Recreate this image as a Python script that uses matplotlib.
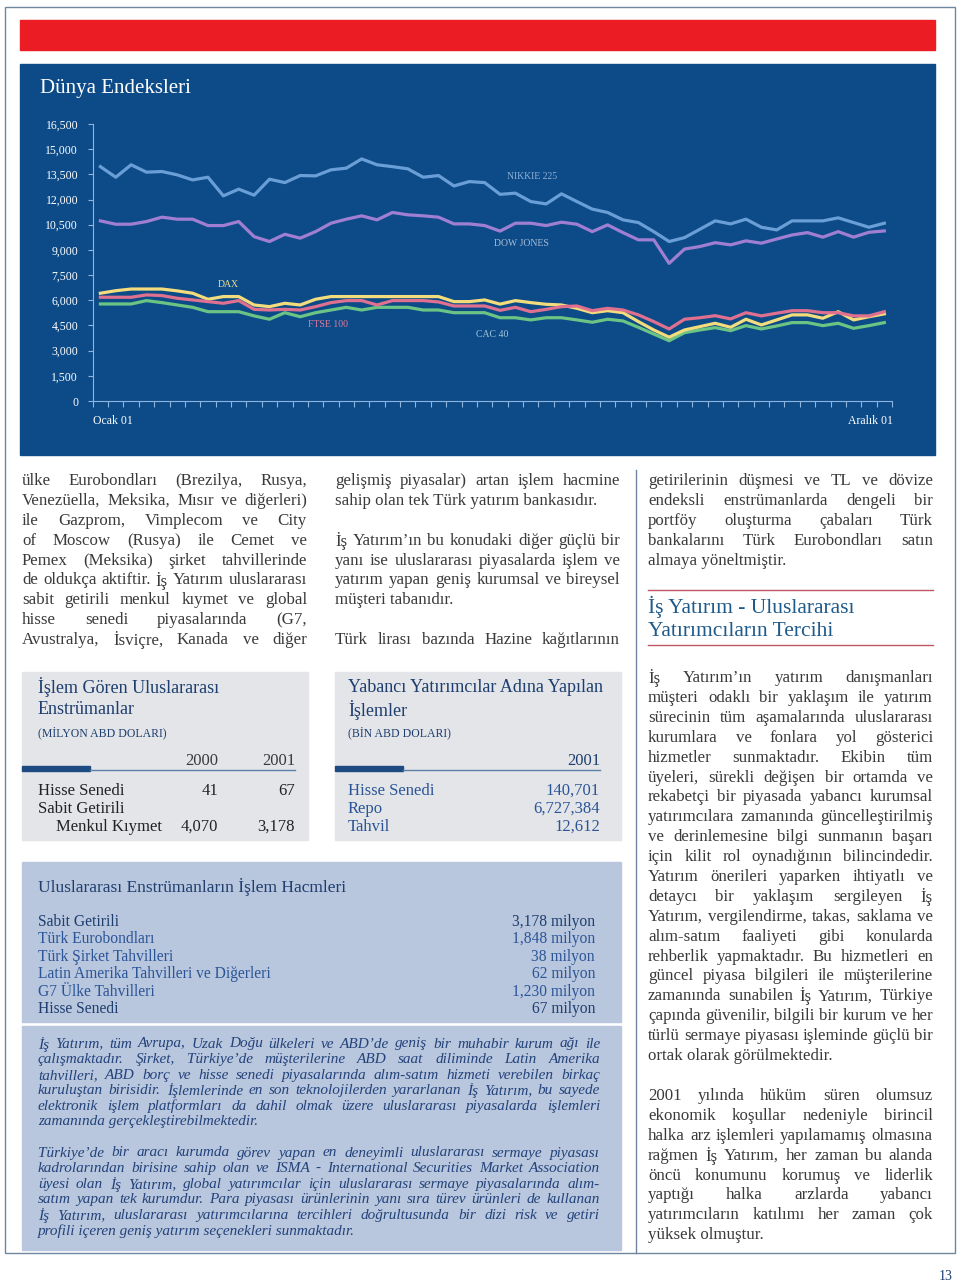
import numpy as np
import matplotlib
matplotlib.use('Agg')
import matplotlib.pyplot as plt
from matplotlib.patches import Rectangle

plt.rcParams['font.family'] = ['Liberation Serif', 'DejaVu Serif']

# weekly closes, Ocak 01 -> Aralik 01
series_names = ['NIKKIE 225', 'DOW JONES', 'DAX', 'FTSE 100', 'CAC 40']
nikkei = [13960, 13330, 14070, 13630, 13670, 13470, 13170, 13330, 12220, 12620,
          12260, 13210, 13010, 13430, 13410, 13770, 13870, 14420, 14070, 13960,
          13830, 13330, 13430, 12810, 13070, 13010, 12310, 12380, 11880, 11740,
          12340, 11880, 11430, 11230, 10790, 10630, 10090, 9500, 9730, 10230,
          10730, 10550, 10830, 10350, 10190, 10730, 10730, 10730, 10910, 10630,
          10350, 10590]
dow = [10730, 10530, 10530, 10690, 10950, 10830, 10830, 10450, 10450, 10690,
       9790, 9500, 9930, 9700, 10090, 10590, 10830, 11030, 10790, 11230,
       11090, 11030, 10950, 10550, 10550, 10450, 10120, 10590, 10590, 10450,
       10650, 10530, 10090, 10490, 10030, 9600, 9600, 8200, 9050, 9200,
       9430, 9300, 9540, 9400, 9650, 9890, 10030, 9760, 10090, 9760,
       10050, 10130]
dax = [6420, 6570, 6670, 6670, 6670, 6560, 6420, 6060, 6220, 6220,
       5720, 5620, 5820, 5720, 6060, 6220, 6220, 6220, 6220, 6220,
       6220, 6220, 6220, 5920, 5920, 6020, 5770, 5980, 5860, 5760,
       5720, 5520, 5260, 5380, 5260, 4730, 4230, 3800, 4230, 4430,
       4630, 4390, 4870, 4530, 4830, 5130, 5130, 4930, 5320, 4830,
       5020, 5190]
ftse = [6180, 6180, 6180, 6320, 6280, 6120, 6020, 5920, 5820, 5980,
        5460, 5420, 5460, 5420, 5620, 5860, 5980, 5980, 5720, 5980,
        5980, 5980, 5900, 5660, 5660, 5660, 5400, 5580, 5320, 5460,
        5620, 5660, 5380, 5520, 5420, 5130, 4730, 4290, 4870, 4960,
        5080, 4890, 5260, 5070, 5230, 5380, 5380, 5260, 5260, 5070,
        5070, 5320]
cac = [5780, 5780, 5780, 5980, 5860, 5720, 5580, 5320, 5320, 5320,
       5070, 4870, 5260, 5020, 5260, 5420, 5580, 5420, 5580, 5580,
       5580, 5420, 5420, 5260, 5260, 5260, 4960, 4960, 4830, 4960,
       4960, 4830, 4690, 4870, 4770, 4390, 3990, 3590, 4070, 4230,
       4370, 4190, 4490, 4290, 4470, 4670, 4670, 4490, 4630, 4330,
       4490, 4670]
y_ticks = list(range(0, 16501, 1500))

# small tables
t1_rows = ['Hisse Senedi', 'Sabit Getirili', 'Menkul Kıymet']
t1_2000 = ['41', '', '4,070']
t1_2001 = ['67', '', '3,178']
t2_rows = ['Hisse Senedi', 'Repo', 'Tahvil']
t2_2001 = ['140,701', '6,727,384', '12,612']
t3_rows = ['Sabit Getirili', 'Türk Eurobondları', 'Türk Şirket Tahvilleri',
           'Latin Amerika Tahvilleri ve Diğerleri', 'G7 Ülke Tahvilleri', 'Hisse Senedi']
t3_vals = ['3,178 milyon', '1,848 milyon', '38 milyon', '62 milyon', '1,230 milyon', '67 milyon']

col1 = ['ülke Eurobondları (Brezilya, Rusya,',
        'Venezüella, Meksika, Mısır ve diğerleri)',
        'ile Gazprom, Vimplecom ve City',
        'of Moscow (Rusya) ile Cemet ve',
        'Pemex (Meksika) şirket tahvillerinde',
        'de oldukça aktiftir. İş Yatırım uluslararası',
        'sabit getirili menkul kıymet ve global',
        'hisse senedi piyasalarında (G7,',
        'Avustralya, İsviçre, Kanada ve diğer']
col2 = ['gelişmiş piyasalar) artan işlem hacmine',
        'sahip olan tek Türk yatırım bankasıdır.',
        '',
        'İş Yatırım’ın bu konudaki diğer güçlü bir',
        'yanı ise uluslararası piyasalarda işlem ve',
        'yatırım yapan geniş kurumsal ve bireysel',
        'müşteri tabanıdır.',
        '',
        'Türk lirası bazında Hazine kağıtlarının']
col2_just = [1, 0, 0, 1, 1, 1, 0, 0, 1]
col3 = ['getirilerinin düşmesi ve TL ve dövize',
        'endeksli enstrümanlarda dengeli bir',
        'portföy oluşturma çabaları Türk',
        'bankalarını Türk Eurobondları satın',
        'almaya yöneltmiştir.']
col3b = ['İş Yatırım’ın yatırım danışmanları',
         'müşteri odaklı bir yaklaşım ile yatırım',
         'sürecinin tüm aşamalarında uluslararası',
         'kurumlara ve fonlara yol gösterici',
         'hizmetler sunmaktadır. Ekibin tüm',
         'üyeleri, sürekli değişen bir ortamda ve',
         'rekabetçi bir piyasada yabancı kurumsal',
         'yatırımcılara zamanında güncelleştirilmiş',
         've derinlemesine bilgi sunmanın başarı',
         'için kilit rol oynadığının bilincindedir.',
         'Yatırım önerileri yaparken ihtiyatlı ve',
         'detaycı bir yaklaşım sergileyen İş',
         'Yatırım, vergilendirme, takas, saklama ve',
         'alım-satım faaliyeti gibi konularda',
         'rehberlik yapmaktadır. Bu hizmetleri en',
         'güncel piyasa bilgileri ile müşterilerine',
         'zamanında sunabilen İş Yatırım, Türkiye',
         'çapında güvenilir, bilgili bir kurum ve her',
         'türlü sermaye piyasası işleminde güçlü bir',
         'ortak olarak görülmektedir.',
         '',
         '2001 yılında hüküm süren olumsuz',
         'ekonomik koşullar nedeniyle birincil',
         'halka arz işlemleri yapılamamış olmasına',
         'rağmen İş Yatırım, her zaman bu alanda',
         'öncü konumunu korumuş ve liderlik',
         'yaptığı halka arzlarda yabancı',
         'yatırımcıların katılımı her zaman çok',
         'yüksek olmuştur.']
italic1 = ['İş Yatırım, tüm Avrupa, Uzak Doğu ülkeleri ve ABD’de geniş bir muhabir kurum ağı ile',
           'çalışmaktadır. Şirket, Türkiye’de müşterilerine ABD saat diliminde Latin Amerika',
           'tahvilleri, ABD borç ve hisse senedi piyasalarında alım-satım hizmeti verebilen birkaç',
           'kuruluştan birisidir. İşlemlerinde en son teknolojilerden yararlanan İş Yatırım, bu sayede',
           'elektronik işlem platformları da dahil olmak üzere uluslararası piyasalarda işlemleri',
           'zamanında gerçekleştirebilmektedir.']
italic2 = ['Türkiye’de bir aracı kurumda görev yapan en deneyimli uluslararası sermaye piyasası',
           'kadrolarından birisine sahip olan ve ISMA - International Securities Market Association',
           'üyesi olan İş Yatırım, global yatırımcılar için uluslararası sermaye piyasalarında alım-',
           'satım yapan tek kurumdur. Para piyasası ürünlerinin yanı sıra türev ürünleri de kullanan',
           'İş Yatırım, uluslararası yatırımcılarına tercihleri doğrultusunda bir dizi risk ve getiri',
           'profili içeren geniş yatırım seçenekleri sunmaktadır.']

navy = '#0c4b88'
ink = '#3a3a3a'
head = '#1d3e6e'
blue_txt = '#2b5597'

fig = plt.figure(figsize=(9.6, 12.86), dpi=100)
page = fig.add_axes([0, 0, 1, 1])
page.set_xlim(0, 960)
page.set_ylim(1286, 0)
page.axis('off')
renderer = fig.canvas.get_renderer()


def put_line(x0, x1, y, text, justify, **kw):
    # draws one text line, spreading the words over x0..x1 when justify is set
    words = text.split()
    if not words:
        return
    if not justify or len(words) == 1:
        page.text(x0, y, text, ha='left', va='center', **kw)
        return
    ts = [page.text(0, y, w, ha='left', va='center', **kw) for w in words]
    widths = [t.get_window_extent(renderer).width for t in ts]
    gap = max((x1 - x0 - sum(widths)) / (len(words) - 1), 2.5)
    x = x0
    for t, w in zip(ts, widths):
        t.set_x(x)
        x += w + gap


# page frame, separators, banners
page.add_patch(Rectangle((5, 7), 950, 1246, fill=False, ec='#6f879e', lw=1))
page.plot([636, 636], [470, 1253], color='#6f879e', lw=1)
page.add_patch(Rectangle((20, 20), 915, 30, color='#ec1c24'))
page.add_patch(Rectangle((20, 64), 915, 391, color=navy))
page.text(40, 88, 'Dünya Endeksleri', color='white', fontsize=15, va='center')
page.text(93, 421, 'Ocak 01', color='white', fontsize=8.5, va='center')
page.text(893, 421, 'Aralık 01', color='white', fontsize=8.5, va='center', ha='right')

# chart
ax = fig.add_axes([92.7 / 960, 1 - 401 / 1286, (892 - 92.7) / 960, 277 / 1286])
ax.patch.set_alpha(0)
weeks = np.arange(len(nikkei)) + 0.5
axis_c = '#8db4de'
ax.plot(weeks, nikkei, color='#6a9ed6', lw=2.3)
ax.plot(weeks, dow, color='#a07fd2', lw=2.3)
ax.plot(weeks, cac, color='#6cc484', lw=2.3)
ax.plot(weeks, dax, color='#f3dc7c', lw=2.3)
ax.plot(weeks, ftse, color='#e0708f', lw=2.3)
ax.text(28.6, 13350, series_names[0], color='#8fb0d6', fontsize=7, ha='center', va='center')
ax.text(27.9, 9360, series_names[1], color='#a9bcd6', fontsize=7, ha='center', va='center')
ax.text(8.8, 6910, series_names[2], color='#f0dc8a', fontsize=7, ha='center', va='center')
ax.text(15.3, 4530, series_names[3], color='#e07a9a', fontsize=7, ha='center', va='center')
ax.text(26.0, 3990, series_names[4], color='#9fc4d8', fontsize=7, ha='center', va='center')
ax.set_xlim(0, len(nikkei))
ax.set_ylim(0, 16500)
ax.set_yticks(y_ticks)
ax.set_yticklabels([f'{v:,}' for v in y_ticks])
ax.set_xticks(np.arange(len(nikkei) + 1))
ax.set_xticklabels([])
for s in ['top', 'right']:
    ax.spines[s].set_visible(False)
for s in ['left', 'bottom']:
    ax.spines[s].set_color(axis_c)
ax.tick_params(axis='y', colors=axis_c, labelcolor='white', labelsize=8.5, length=3.5, pad=7)
ax.tick_params(axis='x', colors=axis_c, length=4, direction='out')

# three text columns under the chart
body = dict(color=ink, fontsize=12.2)
ys = 481 + 19.9 * np.arange(9)
for i, line in enumerate(col1):
    put_line(22, 307, ys[i], line, True, **body)
for i, line in enumerate(col2):
    put_line(335, 620, ys[i], line, col2_just[i], **body)
for i, line in enumerate(col3):
    put_line(648, 933, ys[i], line, i < len(col3) - 1, **body)

page.plot([648, 933], [590, 590], color='#c05465', lw=1)
page.plot([648, 933], [645, 645], color='#c05465', lw=1)
page.text(648, 607, 'İş Yatırım - Uluslararası', color='#1e5a8a', fontsize=15.5, va='center')
page.text(648, 632, 'Yatırımcıların Tercihi', color='#1e5a8a', fontsize=15.5, va='center')

ys = 678 + 19.9 * np.arange(len(col3b))
for i, line in enumerate(col3b):
    last = i + 1 == len(col3b) or col3b[i + 1] == ''
    put_line(648, 933, ys[i], line, not last, **body)

# table 1
page.add_patch(Rectangle((22, 672), 286, 168, color='#e3e5e9'))
page.text(38, 687, 'İşlem Gören Uluslararası', color=head, fontsize=13, va='center')
page.text(38, 709, 'Enstrümanlar', color=head, fontsize=13, va='center')
page.text(38, 733, '(MİLYON ABD DOLARI)', color=head, fontsize=8.5, va='center')
page.add_patch(Rectangle((22, 766), 68, 5, color='#1d4a80'))
page.plot([90, 295], [770, 770], color='#5b7fa8', lw=1)
page.text(218, 761, '2000', color=ink, fontsize=12, va='center', ha='right')
page.text(295, 761, '2001', color=ink, fontsize=12, va='center', ha='right')
for i, r in enumerate(t1_rows):
    y = 791 + 18 * i
    page.text(56 if i == 2 else 38, y, r, color='#222222', fontsize=12, va='center')
    page.text(218, y, t1_2000[i], color='#222222', fontsize=12, va='center', ha='right')
    page.text(295, y, t1_2001[i], color='#222222', fontsize=12, va='center', ha='right')

# table 2
page.add_patch(Rectangle((335, 672), 286, 168, color='#e3e5e9'))
page.text(348, 687, 'Yabancı Yatırımcılar Adına Yapılan', color=head, fontsize=13, va='center')
page.text(348, 710, 'İşlemler', color=head, fontsize=13, va='center')
page.text(348, 733, '(BİN ABD DOLARI)', color=head, fontsize=8.5, va='center')
page.add_patch(Rectangle((335, 766), 68, 5, color='#1d4a80'))
page.plot([403, 600], [770, 770], color='#5b7fa8', lw=1)
page.text(600, 761, '2001', color=head, fontsize=12, va='center', ha='right')
for i, r in enumerate(t2_rows):
    y = 791 + 18 * i
    page.text(348, y, r, color=blue_txt, fontsize=12, va='center')
    page.text(600, y, t2_2001[i], color=blue_txt, fontsize=12, va='center', ha='right')

# table 3 and italic text box
page.add_patch(Rectangle((22, 862), 599, 160, color='#b8c6de'))
page.add_patch(Rectangle((22, 1026), 599, 224, color='#b8c6de'))
page.text(38, 887, 'Uluslararası Enstrümanların İşlem Hacmleri', color=head, fontsize=12.5, va='center')
for i, r in enumerate(t3_rows):
    y = 922 + 17.4 * i
    c = head if i in (0, len(t3_rows) - 1) else blue_txt
    page.text(38, y, r, color=c, fontsize=11.2, va='center')
    page.text(595, y, t3_vals[i], color=c, fontsize=11.2, va='center', ha='right')

ital = dict(color='#23437a', fontsize=11.0, style='italic')
for i, line in enumerate(italic1):
    put_line(38, 600, 1044 + 15.6 * i, line, i < len(italic1) - 1, **ital)
for i, line in enumerate(italic2):
    put_line(38, 600, 1153 + 15.6 * i, line, i < len(italic2) - 1, **ital)

page.text(953, 1276, '13', color=head, fontsize=10, va='center', ha='right')

fig.savefig('out.png', dpi=100)
